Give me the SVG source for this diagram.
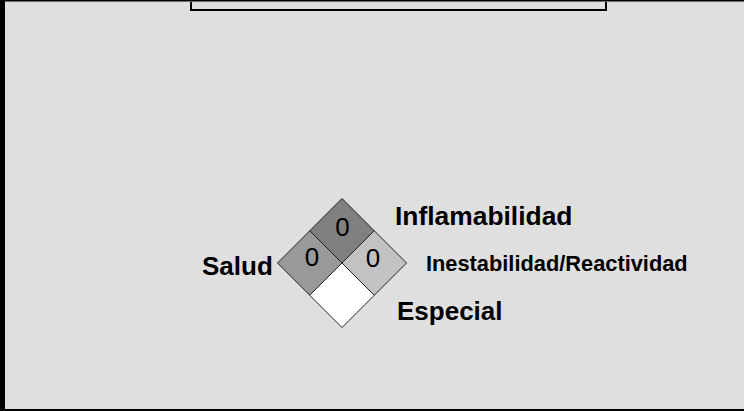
<svg xmlns="http://www.w3.org/2000/svg" width="744" height="411" viewBox="0 0 744 411">
<style>
.lbl{font-family:"Liberation Sans",Arial,sans-serif;font-weight:bold;fill:#000}
.num{font-family:"Liberation Sans",Arial,sans-serif;font-size:26px;fill:#000;text-anchor:middle}
.sq{stroke:#222;stroke-width:1}
</style>
<rect x="0" y="0" width="744" height="411" fill="#dfdfdf"/>
<rect x="0" y="0" width="744" height="1.5" fill="#000"/>
<rect x="0" y="0" width="5" height="411" fill="#000"/>
<rect x="0" y="409" width="744" height="2" fill="#000"/>
<g id="bracket" fill="none" stroke="#000">
<path d="M191 2V10H606V2" stroke-width="2"/>
</g>
<g id="diamond">
<g id="top"><polygon class="sq" points="342,198.5 374.25,230.75 342,263 309.75,230.75" fill="#808080"/><text class="num" x="342.5" y="235.5">0</text></g>
<g id="left"><polygon class="sq" points="309.75,230.75 342,263 309.75,295.25 277.5,263" fill="#999999"/><text class="num" x="312" y="266">0</text></g>
<g id="right"><polygon class="sq" points="374.25,230.75 406.5,263 374.25,295.25 342,263" fill="#c2c2c2"/><text class="num" x="373" y="266.5">0</text></g>
<g id="bottom"><polygon class="sq" points="342,263 374.25,295.25 342,327.5 309.75,295.25" fill="#ffffff"/></g>
</g>
<g id="labels">
<text class="lbl" x="395" y="225" font-size="26.4">Inflamabilidad</text>
<text class="lbl" x="202" y="275" font-size="26">Salud</text>
<text class="lbl" x="426" y="270.5" font-size="21.8">Inestabilidad/Reactividad</text>
<text class="lbl" x="397" y="320" font-size="26">Especial</text>
</g>
</svg>
